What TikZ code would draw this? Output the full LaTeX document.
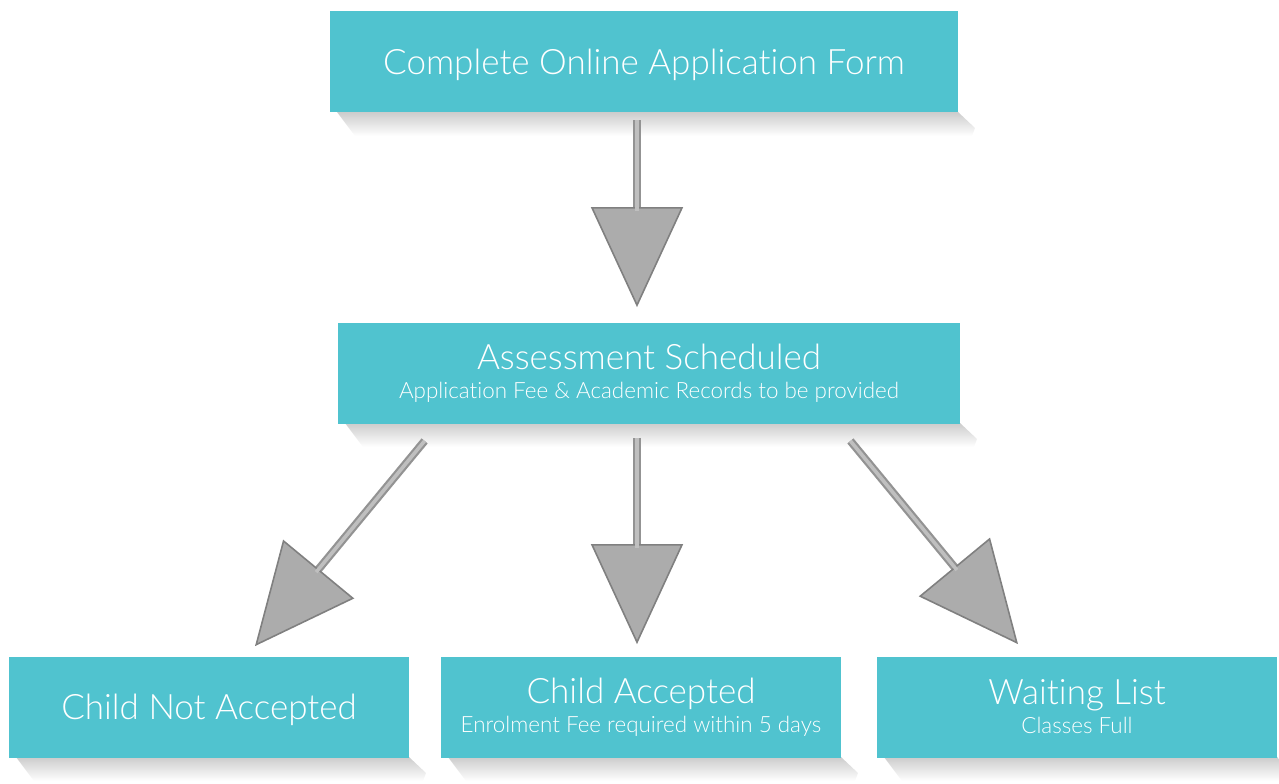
\documentclass[tikz,border=0pt]{standalone}
\usepackage{fontspec}
\setmainfont{Lato Light}[RawFeature=-liga]
\usetikzlibrary{arrows.meta}
\definecolor{boxteal}{HTML}{50C3CF}
\newcommand{\bigfont}{\fontsize{17.5}{14}\selectfont}
\newcommand{\subfont}{\fontsize{11.2}{14}\selectfont}
\begin{document}
\begin{tikzpicture}[x=0.5pt,y=-0.5pt,
		stepbox/.style={fill=boxteal, text=white, inner sep=0pt, align=center, minimum height=50.5pt},
		onebox/.style={stepbox, text depth=0pt},
		flowarrow/.style={draw=gray!85, line width=4pt, -{Triangle[width=46pt,length=50pt,line width=0.8pt,color=gray,fill=gray!65]},
			postaction={draw=gray!50, line width=1.8pt, -, shorten >=48pt}},
		boxshadow/.style={top color=gray!40, middle color=gray!70, bottom color=white}]
		\useasboundingbox (0,0) rectangle (1279,783);
		% shadows under the boxes
		\foreach \l/\r/\b in {330/958/112, 338/960/423, 9/409/757, 441/841/757, 877/1277/757}
			\shade[boxshadow] (\l+7,\b) -- (\r,\b) -- (\r+17,\b+16) -- (\r+14,\b+24) -- (\l+25,\b+24) -- cycle;
		\node[onebox, minimum width=314pt] (form) at (644,61.5) {\bigfont Complete Online Application Form};
		\node[stepbox, minimum width=311pt] (assess) at (649,373) {\bigfont Assessment Scheduled\\[2.5pt]\subfont Application Fee \& Academic Records to be provided};
		\node[onebox, minimum width=200pt] (notacc) at (209,707) {\bigfont Child Not Accepted};
		\node[stepbox, minimum width=200pt] (acc) at (641,707) {\bigfont Child Accepted\\[2.5pt]\subfont Enrolment Fee required within 5 days};
		\node[stepbox, minimum width=200pt] (wait) at (1077,707) {\bigfont Waiting List\\[2.5pt]\subfont Classes Full};
		\draw[flowarrow] ([xshift=-3.5pt,yshift=-4pt]form.south) -- ([xshift=-6pt,yshift=7.5pt]assess.north);
		\draw[flowarrow] ([xshift=43.5pt,yshift=-8.5pt]assess.south west) -- ([xshift=23pt,yshift=5pt]notacc.north);
		\draw[flowarrow] ([xshift=-6pt,yshift=-7pt]assess.south) -- ([xshift=-2pt,yshift=6pt]acc.north);
		\draw[flowarrow] ([xshift=-55pt,yshift=-8.5pt]assess.south east) -- ([xshift=-29.5pt,yshift=6pt]wait.north);
	\end{tikzpicture}
\end{document}
